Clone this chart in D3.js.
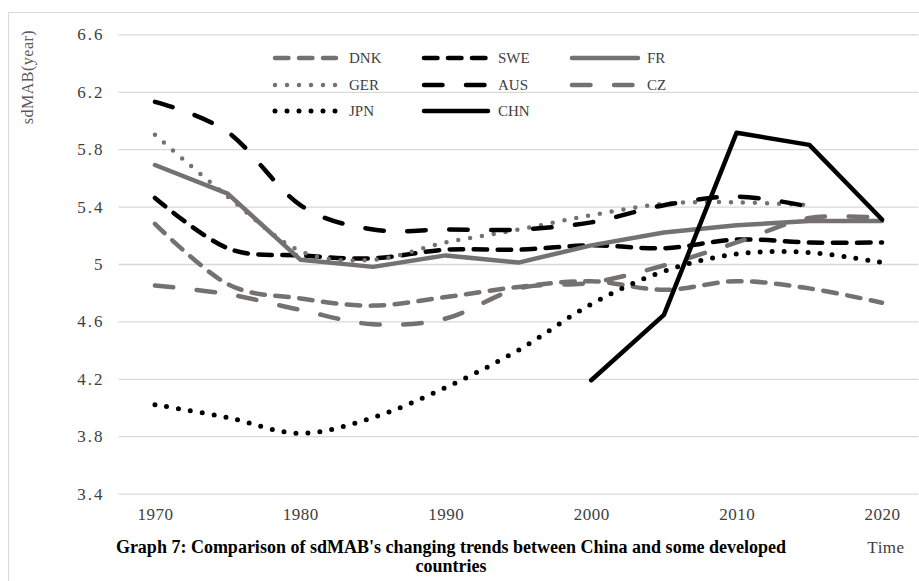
<!DOCTYPE html>
<html>
<head>
<meta charset="utf-8">
<script src="https://cdn.jsdelivr.net/npm/d3@7"></script>
<style>
  html, body { margin: 0; padding: 0; background: #fff; }
  svg { display: block; }
</style>
</head>
<body>
<svg id="chart" width="919" height="581"></svg>
<script>
// Years on the category axis (one point every five years)
const years = [1970, 1975, 1980, 1985, 1990, 1995, 2000, 2005, 2010, 2015, 2020];
// Labels shown on the x axis
const yearLabels = [1970, 1980, 1990, 2000, 2010, 2020];
// Value axis ticks
const yTicks = [3.4, 3.8, 4.2, 4.6, 5, 5.4, 5.8, 6.2, 6.6];

// sdMAB (years) per country
const DNK = [5.28, 4.86, 4.76, 4.71, 4.77, 4.84, 4.88, 4.82, 4.88, 4.83, 4.73];
const SWE = [5.46, 5.11, 5.06, 5.04, 5.10, 5.10, 5.13, 5.11, 5.17, 5.15, 5.15];
const FR  = [5.69, 5.49, 5.03, 4.98, 5.06, 5.01, 5.13, 5.22, 5.27, 5.30, 5.30];
const GER = [5.90, 5.47, 5.09, 5.03, 5.15, 5.24, 5.34, 5.42, 5.43, 5.41, null];
const AUS = [6.13, 5.92, 5.41, 5.24, 5.24, 5.24, 5.29, 5.41, 5.47, 5.40, null];
const CZ  = [4.85, 4.79, 4.68, 4.58, 4.62, 4.83, 4.87, 4.99, 5.15, 5.32, 5.32];
const JPN = [4.02, 3.93, 3.82, 3.93, 4.14, 4.40, 4.72, 4.95, 5.07, 5.08, 5.01];
const CHN = [null, null, null, null, null, null, 4.19, 4.645, 5.915, 5.83, 5.31];

const seriesNames = ["DNK", "SWE", "FR", "GER", "AUS", "CZ", "JPN", "CHN"];
const seriesValues = [DNK, SWE, FR, GER, AUS, CZ, JPN, CHN];

const GREY = "#767171";
const BLACK = "#000000";
const shortDash = "13.5,10.5";
const longDash = "18.5,23.5";
const roundDot = "0,12";

const styles = {
  DNK: { color: GREY,  width: 4.5, dash: shortDash, smooth: true },
  SWE: { color: BLACK, width: 4.5, dash: shortDash, smooth: true },
  FR:  { color: GREY,  width: 4.5, dash: null,      smooth: false },
  GER: { color: GREY,  width: 4.5, dash: roundDot,  smooth: true },
  AUS: { color: BLACK, width: 4.5, dash: longDash,  smooth: true },
  CZ:  { color: GREY,  width: 4.5, dash: longDash,  smooth: true },
  JPN: { color: BLACK, width: 5,   dash: roundDot,  smooth: true },
  CHN: { color: BLACK, width: 4.5, dash: null,      smooth: false }
};

const svg = d3.select("#chart");
const W = 919, H = 581;
const plot = { left: 118.6, right: 918.4, top: 34.4, bottom: 493.6 };

const labelFont = "'Liberation Serif', 'Times New Roman', serif";

// outer chart frame
svg.append("rect")
  .attr("x", 8.5).attr("y", 12.5)
  .attr("width", W + 10).attr("height", H + 10)
  .attr("fill", "none").attr("stroke", "#d9d9d9").attr("stroke-width", 1);

const x = d3.scalePoint().domain(years).range([plot.left, plot.right]).padding(0.5);
const y = d3.scaleLinear().domain([3.4, 6.6]).range([plot.bottom, plot.top]);

// horizontal gridlines
const yAxis = d3.axisLeft(y).tickValues(yTicks)
  .tickSize(-(plot.right - plot.left)).tickPadding(14)
  .tickFormat(d => (d % 1 === 0 ? d3.format("d")(d) : d3.format(".1f")(d)));
const gy = svg.append("g").attr("transform", `translate(${plot.left},0)`).call(yAxis);
gy.select(".domain").remove();
gy.selectAll(".tick line").attr("stroke", "#d9d9d9").attr("stroke-width", 1.3);
gy.selectAll(".tick text")
  .attr("fill", "#404040")
  .style("letter-spacing", "2px")
  .style("font-family", labelFont).style("font-size", "17px");

// category axis labels
const xAxis = d3.axisBottom(x).tickValues(yearLabels).tickSize(0).tickPadding(14);
const gx = svg.append("g").attr("transform", `translate(0,${plot.bottom})`).call(xAxis);
gx.select(".domain").remove();
gx.selectAll(".tick text")
  .attr("fill", "#404040")
  .style("letter-spacing", "0.5px")
  .style("font-family", labelFont).style("font-size", "17px");

// series lines
const smoothLine = d3.line()
  .defined(d => d.v != null)
  .x(d => x(d.year)).y(d => y(d.v))
  .curve(d3.curveCardinal.tension(0));
const straightLine = d3.line()
  .defined(d => d.v != null)
  .x(d => x(d.year)).y(d => y(d.v));

const linesG = svg.append("g");
seriesNames.forEach((name, i) => {
  const st = styles[name];
  const pts = years.map((yr, j) => ({ year: yr, v: seriesValues[i][j] }));
  linesG.append("path")
    .datum(pts)
    .attr("d", st.smooth ? smoothLine : straightLine)
    .attr("fill", "none")
    .attr("stroke", st.color)
    .attr("stroke-width", st.width)
    .attr("stroke-linecap", "round")
    .attr("stroke-linejoin", "round")
    .attr("stroke-dasharray", st.dash);
});

// legend (three columns, filled row by row)
const legendCols = [{ x0: 275, x1: 336, tx: 349 }, { x0: 424, x1: 488, tx: 498 }, { x0: 572, x1: 638, tx: 647 }];
const legendRows = [58, 85, 111];
const legend = svg.append("g");
seriesNames.forEach((name, i) => {
  const col = legendCols[i % 3], row = legendRows[Math.floor(i / 3)];
  const st = styles[name];
  legend.append("line")
    .attr("x1", col.x0).attr("x2", col.x1).attr("y1", row).attr("y2", row)
    .attr("stroke", st.color).attr("stroke-width", st.width)
    .attr("stroke-linecap", "round")
    .attr("stroke-dasharray", st.dash);
  legend.append("text")
    .attr("x", col.tx).attr("y", row).attr("dy", "0.35em")
    .attr("fill", "#404040")
    .style("font-family", labelFont).style("font-size", "15px")
    .text(name);
});

// value axis title
svg.append("text")
  .attr("transform", "translate(33,77) rotate(-90)")
  .attr("text-anchor", "middle")
  .attr("fill", "#595959")
  .style("letter-spacing", "0.5px")
  .style("font-family", labelFont).style("font-size", "16px")
  .text("sdMAB(year)");

// category axis title
svg.append("text")
  .attr("x", 886).attr("y", 547).attr("dy", "0.35em")
  .attr("text-anchor", "middle")
  .attr("fill", "#404040")
  .style("letter-spacing", "0.5px")
  .style("font-family", labelFont).style("font-size", "17px")
  .text("Time");

// caption
const caption = svg.append("text")
  .attr("text-anchor", "middle")
  .attr("fill", "#000")
  .style("font-family", labelFont)
  .style("font-weight", "bold").style("font-size", "18px");
caption.append("tspan").attr("x", 451).attr("y", 553)
  .text("Graph 7: Comparison of sdMAB's changing trends between China and some developed");
caption.append("tspan").attr("x", 451).attr("y", 572).text("countries");
</script>
</body>
</html>
